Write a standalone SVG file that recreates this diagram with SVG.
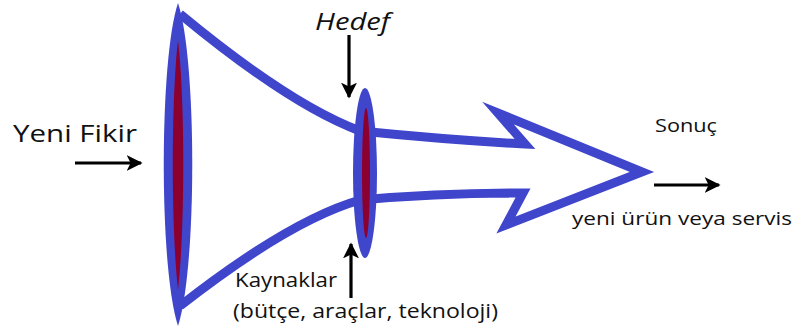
<svg xmlns="http://www.w3.org/2000/svg" width="795" height="334" viewBox="0 0 795 334">
<style>
.blue{fill:none;stroke:#4046cc;stroke-width:9;stroke-linejoin:miter;stroke-miterlimit:10}
.ebl{fill:#4046cc}
.red{fill:#8c0030}
.t{font-family:"Open Sans","DejaVu Sans",sans-serif;fill:#111}
.arr{stroke:#000;stroke-width:3.2;fill:none}
</style>
<defs>
<marker id="ah" viewBox="0 0 10 10" refX="9" refY="5" markerWidth="5" markerHeight="5" orient="auto" markerUnits="strokeWidth">
<path d="M0,0 L10,5 L0,10 L2.5,5 Z" fill="#000"/>
</marker>
</defs>
<rect width="795" height="334" fill="#fff"/>
<g id="connectors">
<path class="blue" d="M180,14 Q290,105 360,131 Q450,140 525,144 L498,113 L642,172 L506,225 L523,193 Q440,193 360,200 Q290,220 180,306"/>
<line class="arr" x1="349" y1="35" x2="349" y2="97" marker-end="url(#ah)"/>
<line class="arr" x1="351" y1="298" x2="351" y2="244" marker-end="url(#ah)"/>
<line class="arr" x1="75" y1="163" x2="141" y2="163" marker-end="url(#ah)"/>
<line class="arr" x1="654" y1="185" x2="719" y2="185" marker-end="url(#ah)"/>
</g>
<g id="fikir-ring">
<path class="ebl" d="M178,3 C197,60 197,268 178,326 C159,268 159,60 178,3 Z"/>
<path class="red" d="M178,40 C185,100 185,228 178,290 C171,228 171,100 178,40 Z"/>
</g>
<g id="hedef-ring">
<ellipse class="ebl" cx="365" cy="173" rx="12" ry="85"/>
<ellipse class="red" cx="366" cy="173" rx="4" ry="65"/>
</g>
<g id="labels">
<text class="t" x="315" y="30" font-size="24" font-style="italic" textLength="75" lengthAdjust="spacingAndGlyphs">Hedef</text>
<text class="t" x="13" y="142" font-size="24" textLength="124" lengthAdjust="spacingAndGlyphs">Yeni Fikir</text>
<text class="t" x="655" y="132" font-size="18" textLength="62" lengthAdjust="spacingAndGlyphs">Sonuç</text>
<text class="t" x="572" y="225" font-size="19" textLength="220" lengthAdjust="spacingAndGlyphs">yeni ürün veya servis</text>
<text class="t" x="235" y="287" font-size="20" textLength="102" lengthAdjust="spacingAndGlyphs">Kaynaklar</text>
<text class="t" x="233" y="318" font-size="20" textLength="265" lengthAdjust="spacingAndGlyphs">(bütçe, araçlar, teknoloji)</text>
</g>
</svg>
